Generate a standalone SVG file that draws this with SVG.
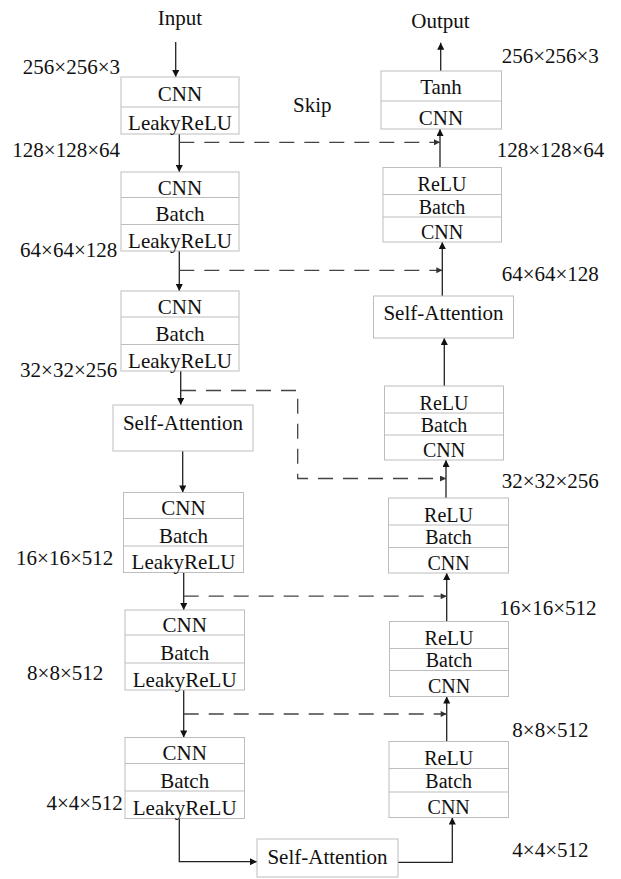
<svg xmlns="http://www.w3.org/2000/svg" width="621" height="879" viewBox="0 0 621 879">
<defs>
<marker id="ah" viewBox="0 0 10 10" refX="10" refY="5" markerWidth="9" markerHeight="7" markerUnits="userSpaceOnUse" orient="auto"><path d="M0,0 L10,5 L0,10 z" fill="#111"/></marker>
<marker id="ahd" viewBox="0 0 10 10" refX="10" refY="5" markerWidth="8" markerHeight="6" markerUnits="userSpaceOnUse" orient="auto"><path d="M0,0 L10,5 L0,10 z" fill="#333"/></marker>
</defs>
<style>
text{font-family:'Liberation Serif','Times New Roman',serif;font-size:21px;fill:#111}
.c{text-anchor:middle}
.e{text-anchor:end}
.sm{font-size:20px}
.box{fill:#fff;stroke:#bdbdbd;stroke-width:1}
.div{stroke:#bdbdbd;stroke-width:1}
.sol{fill:none;stroke:#222;stroke-width:1.3;marker-end:url(#ah)}
.dash{fill:none;stroke:#444;stroke-width:1.3;stroke-dasharray:15 10;marker-end:url(#ahd)}
</style>
<rect width="621" height="879" fill="#fff"/>

<g id="connectors">
<line class="sol" x1="175.7" y1="42" x2="175.7" y2="77"/>
<line class="sol" x1="179.3" y1="134" x2="179.3" y2="172"/>
<line class="sol" x1="179.3" y1="251" x2="179.3" y2="291"/>
<line class="sol" x1="180.7" y1="371" x2="180.7" y2="405"/>
<line class="sol" x1="182.7" y1="451" x2="182.7" y2="492.5"/>
<line class="sol" x1="183.7" y1="572.5" x2="183.7" y2="610"/>
<line class="sol" x1="183.7" y1="690" x2="183.7" y2="737.5"/>
<path class="sol" d="M179.3,818.5 V861.7 H257"/>
<path class="sol" d="M398,862.3 H452.3 V817.5"/>
<line class="sol" x1="446.7" y1="741.5" x2="446.7" y2="696.5"/>
<line class="sol" x1="446.7" y1="621.5" x2="446.7" y2="573"/>
<line class="sol" x1="446" y1="498" x2="446" y2="460"/>
<line class="sol" x1="444.3" y1="386" x2="444.3" y2="338"/>
<line class="sol" x1="442.3" y1="296" x2="442.3" y2="242"/>
<line class="sol" x1="440" y1="167.5" x2="440" y2="129"/>
<line class="sol" x1="440.7" y1="71" x2="440.7" y2="42.7"/>
<path class="dash" d="M179.3,142.3 H440"/>
<path class="dash" d="M179.3,270.3 H442.3"/>
<path class="dash" d="M181,390.5 H297.7 V478.5 H446"/>
<path class="dash" d="M183.7,596.2 H446.7"/>
<path class="dash" d="M183.7,714 H446.7"/>
</g>

<g font-family="'Liberation Serif', 'Times New Roman', serif">
<g id="L1">
<rect class="box" x="121" y="77" width="118" height="57"/>
<line class="div" x1="121" y1="107" x2="239" y2="107"/>
<text class="c" x="180" y="101">CNN</text>
<text class="c" x="180" y="130">LeakyReLU</text>
</g>
<g id="L2">
<rect class="box" x="121" y="172" width="118" height="79"/>
<line class="div" x1="121" y1="197.5" x2="239" y2="197.5"/>
<line class="div" x1="121" y1="224.5" x2="239" y2="224.5"/>
<text class="c" x="180" y="194.5">CNN</text>
<text class="c" x="180" y="221">Batch</text>
<text class="c" x="180" y="247.5">LeakyReLU</text>
</g>
<g id="L3">
<rect class="box" x="121" y="291" width="118" height="80"/>
<line class="div" x1="121" y1="317" x2="239" y2="317"/>
<line class="div" x1="121" y1="344.5" x2="239" y2="344.5"/>
<text class="c" x="180" y="313.5">CNN</text>
<text class="c" x="180" y="341">Batch</text>
<text class="c" x="180" y="367.5">LeakyReLU</text>
</g>
<g id="LSA">
<rect class="box" x="113" y="405" width="140" height="46"/>
<text class="c" x="183" y="430">Self-Attention</text>
</g>
<g id="L4">
<rect class="box" x="123.5" y="492.5" width="120" height="80"/>
<line class="div" x1="123.5" y1="518.5" x2="243.5" y2="518.5"/>
<line class="div" x1="123.5" y1="546" x2="243.5" y2="546"/>
<text class="c" x="183.5" y="515">CNN</text>
<text class="c" x="183.5" y="542.5">Batch</text>
<text class="c" x="183.5" y="569">LeakyReLU</text>
</g>
<g id="L5">
<rect class="box" x="125" y="610" width="119.5" height="80"/>
<line class="div" x1="125" y1="635" x2="244.5" y2="635"/>
<line class="div" x1="125" y1="663" x2="244.5" y2="663"/>
<text class="c" x="184.7" y="631.5">CNN</text>
<text class="c" x="184.7" y="659.5">Batch</text>
<text class="c" x="184.7" y="686.5">LeakyReLU</text>
</g>
<g id="L6">
<rect class="box" x="125" y="737.5" width="119.5" height="81"/>
<line class="div" x1="125" y1="763.5" x2="244.5" y2="763.5"/>
<line class="div" x1="125" y1="791" x2="244.5" y2="791"/>
<text class="c" x="184.7" y="760">CNN</text>
<text class="c" x="184.7" y="787.5">Batch</text>
<text class="c" x="184.7" y="815">LeakyReLU</text>
</g>
<g id="BSA">
<rect class="box" x="257" y="839" width="141" height="38"/>
<text class="c" x="327.5" y="863.5">Self-Attention</text>
</g>

<g id="R1">
<rect class="box" x="381" y="71" width="120.5" height="58"/>
<line class="div" x1="381" y1="101" x2="501.5" y2="101"/>
<text class="c" x="441" y="93.5">Tanh</text>
<text class="c" x="441" y="124.5">CNN</text>
</g>
<g id="R2">
<rect class="box" x="383" y="167.5" width="118.5" height="74.5"/>
<line class="div" x1="383" y1="194.5" x2="501.5" y2="194.5"/>
<line class="div" x1="383" y1="217" x2="501.5" y2="217"/>
<text class="c sm" x="442" y="191">ReLU</text>
<text class="c sm" x="442" y="213.5">Batch</text>
<text class="c sm" x="442" y="239">CNN</text>
</g>
<g id="RSA">
<rect class="box" x="373.5" y="296" width="140" height="42"/>
<text class="c" x="443.5" y="320">Self-Attention</text>
</g>
<g id="R3">
<rect class="box" x="384.5" y="386" width="119" height="74"/>
<line class="div" x1="384.5" y1="413" x2="503.5" y2="413"/>
<line class="div" x1="384.5" y1="435" x2="503.5" y2="435"/>
<text class="c sm" x="444" y="409.5">ReLU</text>
<text class="c sm" x="444" y="431.5">Batch</text>
<text class="c sm" x="444" y="457">CNN</text>
</g>
<g id="R4">
<rect class="box" x="388.5" y="498" width="120" height="75"/>
<line class="div" x1="388.5" y1="525" x2="508.5" y2="525"/>
<line class="div" x1="388.5" y1="547.5" x2="508.5" y2="547.5"/>
<text class="c sm" x="448.5" y="521.5">ReLU</text>
<text class="c sm" x="448.5" y="543.5">Batch</text>
<text class="c sm" x="448.5" y="570">CNN</text>
</g>
<g id="R5">
<rect class="box" x="389.5" y="621.5" width="119" height="75"/>
<line class="div" x1="389.5" y1="648.5" x2="508.5" y2="648.5"/>
<line class="div" x1="389.5" y1="670.5" x2="508.5" y2="670.5"/>
<text class="c sm" x="449" y="645">ReLU</text>
<text class="c sm" x="449" y="667">Batch</text>
<text class="c sm" x="449" y="693">CNN</text>
</g>
<g id="R6">
<rect class="box" x="389" y="741.5" width="119.5" height="76"/>
<line class="div" x1="389" y1="768.5" x2="508.5" y2="768.5"/>
<line class="div" x1="389" y1="792" x2="508.5" y2="792"/>
<text class="c sm" x="448.7" y="765">ReLU</text>
<text class="c sm" x="448.7" y="788">Batch</text>
<text class="c sm" x="448.7" y="814">CNN</text>
</g>

<g id="labels">
<text class="c" x="180" y="25">Input</text>
<text class="c" x="440.5" y="28.3">Output</text>
<text x="293" y="111.7">Skip</text>
<text class="e" x="120" y="74">256×256×3</text>
<text class="e" x="120" y="157">128×128×64</text>
<text class="e" x="117.3" y="256.7">64×64×128</text>
<text class="e" x="117.3" y="376.7">32×32×256</text>
<text class="e" x="113.3" y="565">16×16×512</text>
<text class="e" x="103.3" y="680">8×8×512</text>
<text class="e" x="122.7" y="810">4×4×512</text>
<text x="501.7" y="63.3">256×256×3</text>
<text x="496.7" y="156.7">128×128×64</text>
<text x="501.7" y="280.7">64×64×128</text>
<text x="501.7" y="488.3">32×32×256</text>
<text x="499.3" y="615">16×16×512</text>
<text x="512.3" y="737.3">8×8×512</text>
<text x="512.3" y="856.7">4×4×512</text>
</g>
</g>
</svg>
